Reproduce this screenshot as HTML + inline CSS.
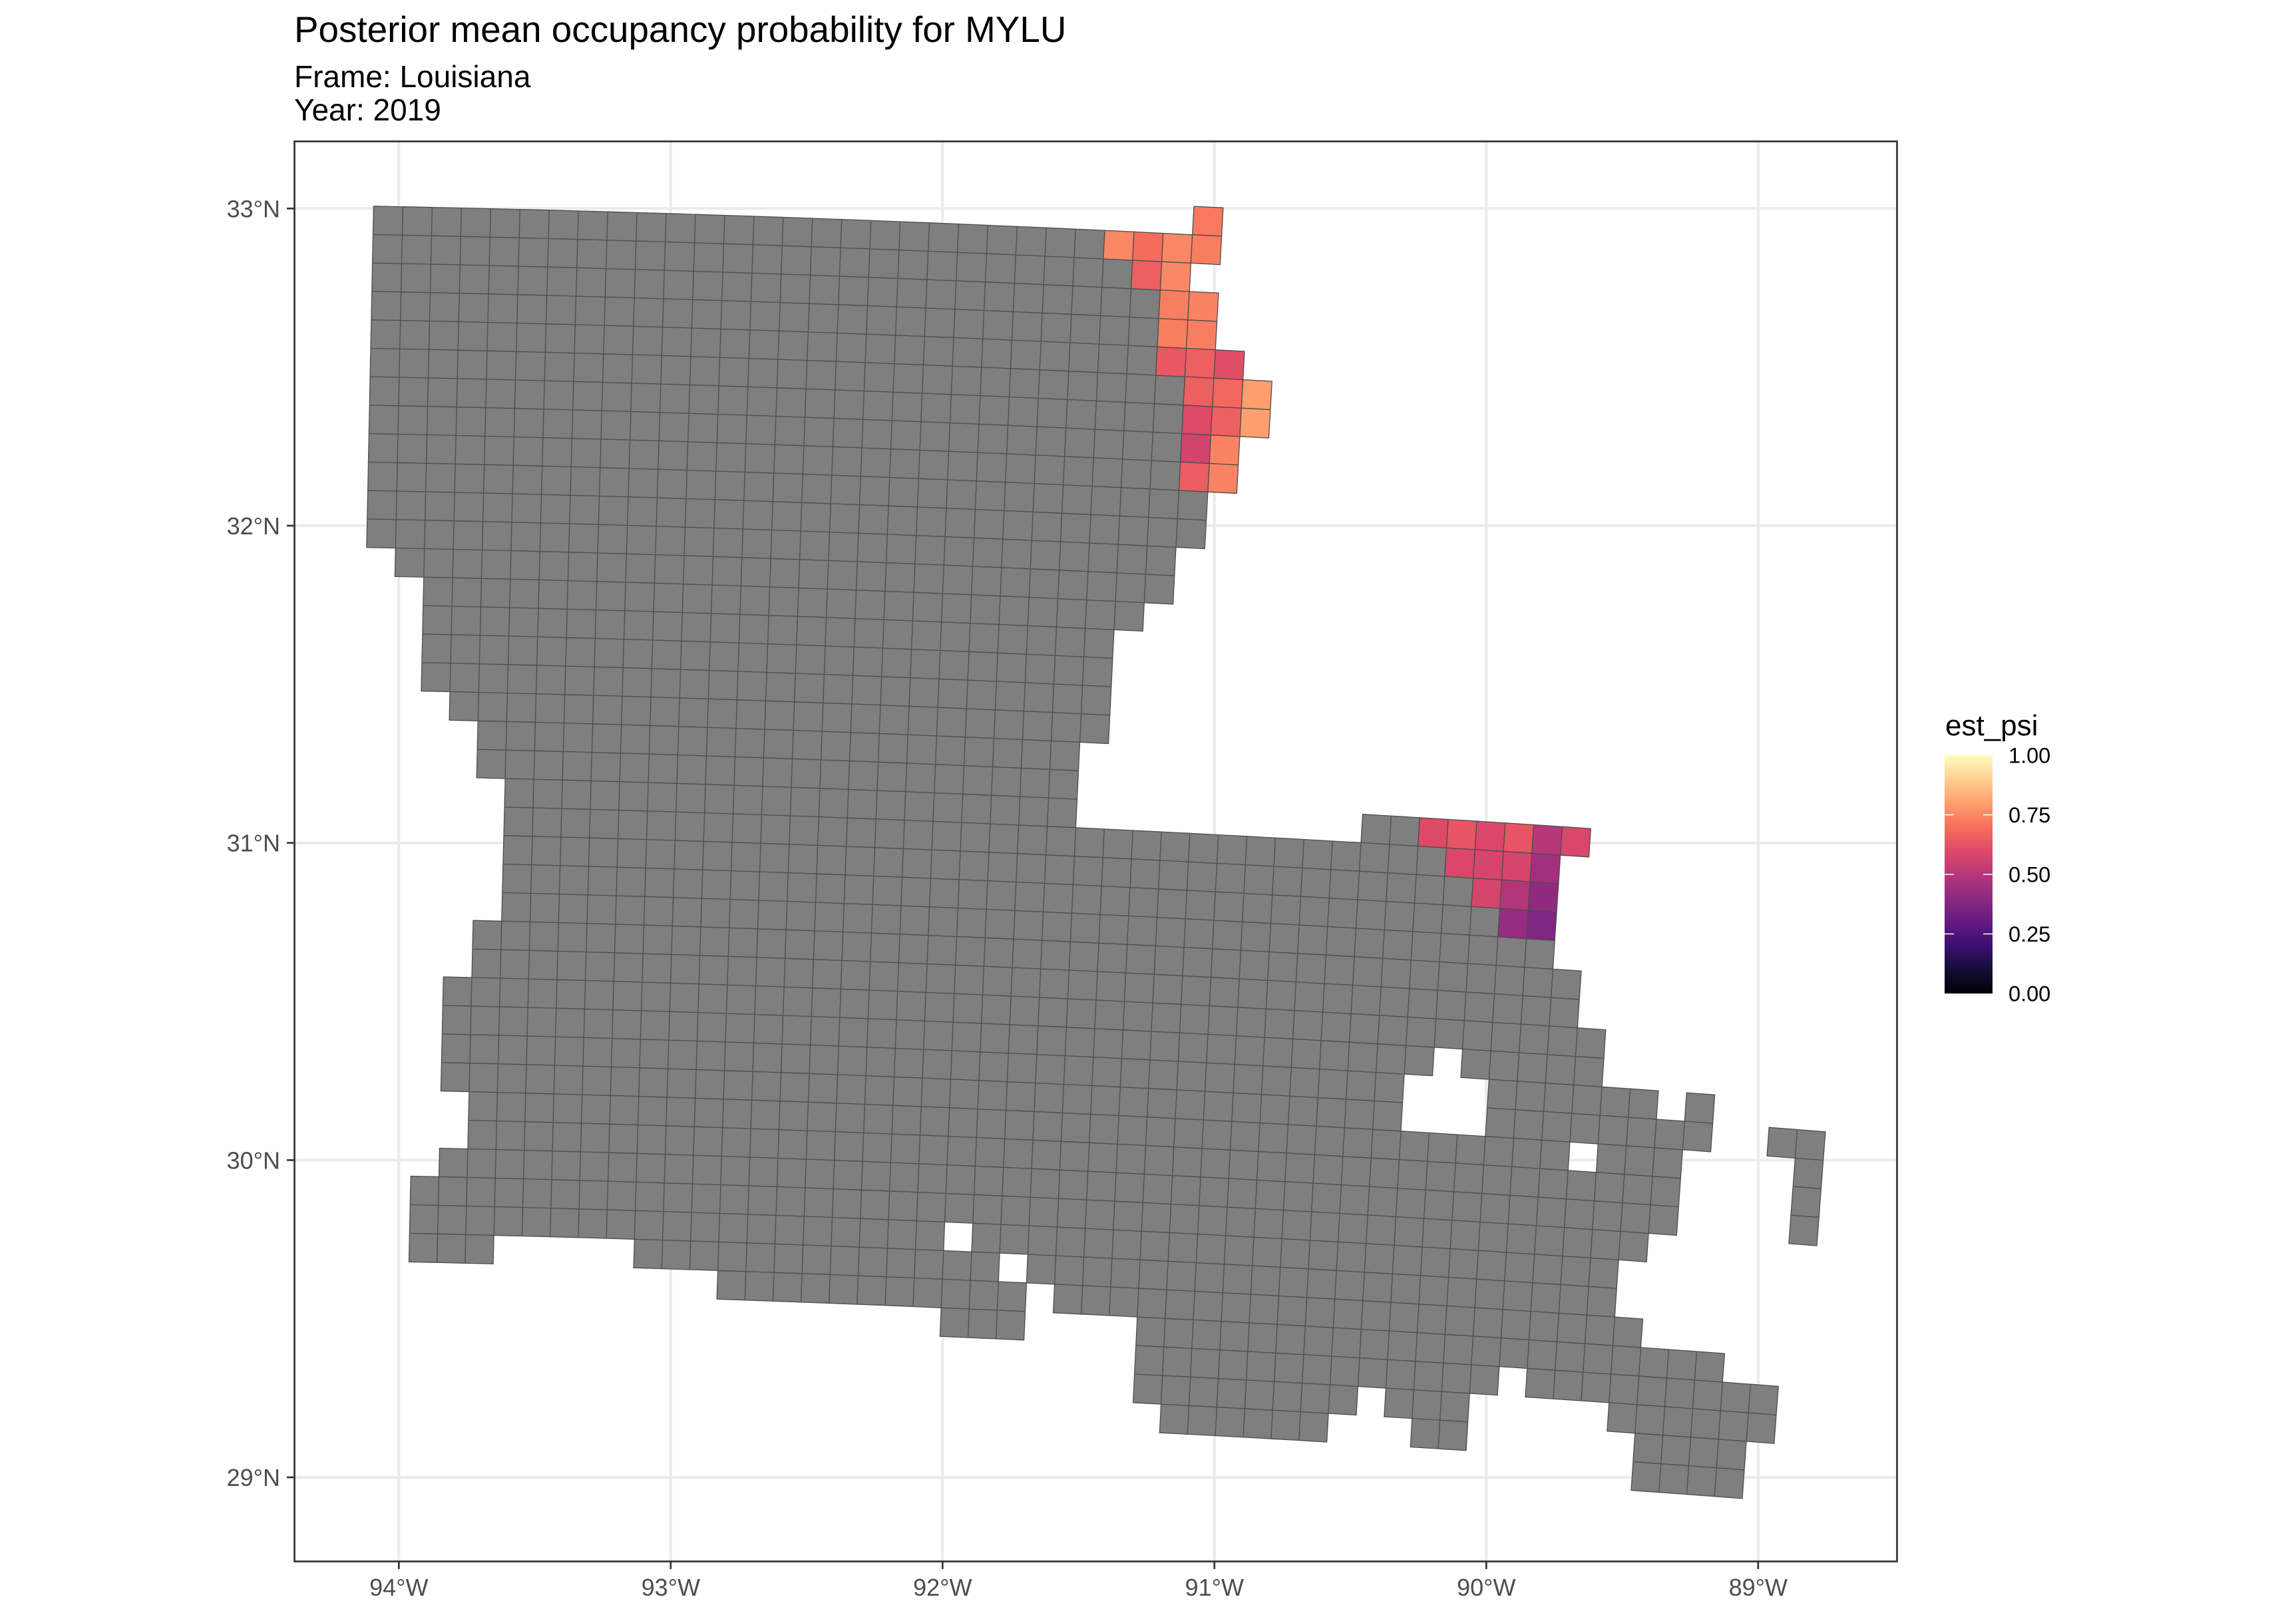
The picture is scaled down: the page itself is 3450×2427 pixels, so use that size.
<!DOCTYPE html>
<html><head><meta charset="utf-8">
<style>
html,body{margin:0;padding:0;background:#fff;}
svg{display:block;font-family:"Liberation Sans",Arial,sans-serif;}
</style></head>
<body>
<svg id="chart" width="3450" height="2427" viewBox="0 0 3450 2427" xmlns="http://www.w3.org/2000/svg">
<rect x="0" y="0" width="3450" height="2427" fill="#ffffff"/>
<text x="442" y="63" font-size="54.8" fill="#000">Posterior mean occupancy probability for MYLU</text>
<text x="442" y="131" font-size="46" fill="#000">Frame: Louisiana</text>
<text x="442" y="181" font-size="46" fill="#000">Year: 2019</text>
<g id="grid"></g>
<g id="cells"></g>
<rect x="442.5" y="212.5" width="2408" height="2134" fill="none" stroke="#333333" stroke-width="2.7"/>
<g id="axes"></g>
<g id="legend"></g>
</svg>
<script>
// ---- data ----
const lonTicks = [-94, -93, -92, -91, -90, -89];
const lonTickLabels = ["94°W", "93°W", "92°W", "91°W", "90°W", "89°W"];
const latTicks = [33, 32, 31, 30, 29];
const latTickLabels = ["33°N", "32°N", "31°N", "30°N", "29°N"];
const legendTicks = [0, 0.25, 0.5, 0.75, 1];
const legendTickLabels = ["0.00", "0.25", "0.50", "0.75", "1.00"];
// colored cells: center lon, lat and posterior mean psi
const cellLon = [-91.022,-91.350,-91.243,-91.135,-91.028,-91.249,-91.140,-91.144,-91.039,-91.151,-91.044,-91.160,-91.055,-90.945,-91.061,-90.954,-90.845,-91.066,-90.958,-90.849,-91.072,-90.965,-91.076,-90.972,
  -90.196,-90.089,-89.986,-89.879,-89.774,-89.671,-90.096,-89.992,-89.887,-89.780,-89.999,-89.894,-89.789,-89.902,-89.797];
const cellLat = [32.961,32.886,32.882,32.878,32.871,32.791,32.784,32.694,32.690,32.605,32.601,32.516,32.511,32.507,32.423,32.417,32.411,32.333,32.329,32.322,32.246,32.240,32.155,32.150,
  31.034,31.030,31.025,31.019,31.013,31.005,30.937,30.931,30.924,30.919,30.843,30.834,30.831,30.746,30.740];
const cellPsi = [0.72,0.75,0.69,0.75,0.73,0.66,0.75,0.73,0.74,0.73,0.73,0.64,0.66,0.61,0.66,0.68,0.80,0.60,0.66,0.80,0.57,0.74,0.65,0.74,
  0.60,0.63,0.59,0.63,0.50,0.59,0.59,0.58,0.58,0.45,0.58,0.49,0.41,0.42,0.37];

// ---- geometry (state mask traced in plot pixels) ----
const stateMask = [[561.4,309.8],[1660.5,346.1],[1793.6,346.1],[1793.6,309.8],[1838.2,311.7],[1834.6,397.1],[1790,397.1],[1787.3,438],[1831.1,440.5],[1827.5,524.7],[1870.4,528.5],[1868.6,570.6],[1912.3,573.8],[1907,658.6],[1861.4,656.7],[1858.8,741.5],[1815,739.6],[1812.3,824.4],[1765.9,822.5],[1763.2,907.3],[1718.6,905.4],[1716.8,948.2],[1673.9,946.9],[1666.8,1117.2],[1622.1,1115.9],[1617.7,1243.5],[2043.9,1266.6],[2047.7,1223.2],[2390.5,1246.3],[2388.3,1287.7],[2346.2,1282.8],[2337.0,1411.9],[2334.7,1456.1],[2377.5,1458.2],[2373.0,1543.7],[2413.5,1545.8],[2408.9,1631.4],[2492.3,1636.3],[2490.0,1682.6],[2533.7,1685.4],[2535.2,1641.9],[2578.0,1645.5],[2573.4,1729.6],[2526.0,1727.5],[2520.6,1855.9],[2477.8,1853.8],[2476.3,1896.6],[2432.6,1894.5],[2426.5,1978.7],[2469.4,1980.8],[2467.1,2024.3],[2592.6,2033.4],[2589.5,2076.9],[2672.9,2083.9],[2668.3,2168.1],[2625.5,2164.6],[2619.4,2250.9],[2451.8,2238.2],[2455.6,2152.7],[2415.0,2150.5],[2418.9,2108.5],[2293.4,2099.3],[2294.9,2057.2],[2254.3,2054.4],[2250.5,2096.5],[2209.9,2092.3],[2204.6,2178.6],[2120.4,2173.7],[2124.2,2131.6],[2082.1,2127.4],[2084.4,2085.3],[2042.3,2082.5],[2040.0,2126.0],[1996.4,2123.2],[1994.1,2166.0],[1743.9,2152.0],[1745.4,2109.9],[1703.3,2107.1],[1707.1,1977.3],[1582.7,1971.7],[1584.4,1929.6],[1544.3,1927.5],[1539.8,2013.8],[1413.0,2008.1],[1415.7,1964.6],[1078.2,1952.0],[1080.0,1908.5],[953.2,1905.0],[955.0,1861.5],[743.4,1856.6],[741.6,1899.4],[613.9,1896.6],[616.6,1766.8],[661.3,1766.8],[661.3,1724.7],[705.0,1724.7],[705.0,1639.8],[663.0,1639.8],[665.7,1468.0],[711.3,1468.0],[711.3,1383.8],[755.9,1383.8],[758.6,1200],[758.8,1168.8],[717.7,1168.8],[717.7,1082.1],[675.7,1082.1],[675.7,1038.7],[634.6,1038.7],[636.4,867.2],[593.6,867.2],[593.6,822.5],[550.7,822.5]];
const islandMask = [[2658.4,1694.6],[2744.1,1699.5],[2736.5,1871.3],[2690.5,1871.3],[2696.7,1741.6],[2656.9,1738.8]];
const holePts = [[1439.8,1859.4],[1522.9,1905.0],[2174.7,1596.4],[2130.3,1638.4],[2172.4,1638.4],[2214.5,1638.4],[2128,1680.5],[2170,1680.5],[2212,1680.5],[2378.3,1738.8]];

// ---- scales ----
const PX0 = 599.3, PXD = 408.5, PY0 = 313.3, PYD = 476.7;
function sx(lon){ return PX0 + (lon + 94) * PXD; }
function sy(lat){ return PY0 + (33 - lat) * PYD; }
function ilon(x){ return -94 + (x - PX0) / PXD; }
function ilat(y){ return 33 - (y - PY0) / PYD; }

// ---- Albers equal area (CONUS) ----
const A = 6378137, E2 = 0.0066943800229, E = Math.sqrt(E2), D2R = Math.PI/180;
function qf(p){ const s=Math.sin(p); return (1-E2)*(s/(1-E2*s*s) - (1/(2*E))*Math.log((1-E*s)/(1+E*s))); }
function mf(p){ const s=Math.sin(p); return Math.cos(p)/Math.sqrt(1-E2*s*s); }
const P1=29.5*D2R, P2=45.5*D2R, P0=23*D2R, L0=-96*D2R;
const M1=mf(P1), M2=mf(P2), Q1=qf(P1), Q2=qf(P2), Q0=qf(P0);
const N=(M1*M1-M2*M2)/(Q2-Q1), CC=M1*M1+N*Q1, RHO0=A*Math.sqrt(CC-N*Q0)/N;
function fwd(lon,lat){ const q=qf(lat*D2R); const r=A*Math.sqrt(CC-N*q)/N; const t=N*(lon*D2R-L0); return [r*Math.sin(t), RHO0-r*Math.cos(t)]; }
function inv(x,y){ const r=Math.sqrt(x*x+(RHO0-y)*(RHO0-y)); const t=Math.atan2(x,RHO0-y); const q=(CC-r*r*N*N/(A*A))/N;
  let p=Math.asin(Math.max(-1,Math.min(1,q/2)));
  for(let k=0;k<12;k++){ const s=Math.sin(p); p+= (1-E2*s*s)*(1-E2*s*s)/(2*Math.cos(p))*(q/(1-E2)-s/(1-E2*s*s)+(1/(2*E))*Math.log((1-E*s)/(1+E*s))); }
  return [(L0+t/N)/D2R, p/D2R]; }

const NS="http://www.w3.org/2000/svg";
function mk(tag, attrs, parent){ const el=document.createElementNS(NS,tag); for(const k in attrs) el.setAttribute(k, attrs[k]); parent.appendChild(el); return el; }

// magma colormap
const magmaStops = ["#000004","#140e36","#3b0f70","#641a80","#8c2981","#b73779","#de4968","#f7705c","#fe9f6d","#fecf92","#fcfdbf"];
function hex2rgb(h){ return [parseInt(h.substr(1,2),16),parseInt(h.substr(3,2),16),parseInt(h.substr(5,2),16)]; }
function magma(v){ v=Math.max(0,Math.min(1,v)); const f=v*10; const i=Math.min(9,Math.floor(f)); const t=f-i;
  const a=hex2rgb(magmaStops[i]), b=hex2rgb(magmaStops[i+1]);
  return "rgb("+a.map((c,k)=>Math.round(c+(b[k]-c)*t)).join(",")+")"; }

function inPoly(pt, poly){ let c=false; for(let i=0,j=poly.length-1;i<poly.length;j=i++){ const xi=poly[i][0], yi=poly[i][1], xj=poly[j][0], yj=poly[j][1];
  if(((yi>pt[1])!==(yj>pt[1])) && (pt[0] < (xj-xi)*(pt[1]-yi)/(yj-yi)+xi)) c=!c; } return c; }

// graticule
const gridG=document.getElementById('grid');
lonTicks.forEach(function(lon){ const l=mk('line',{x1:sx(lon),x2:sx(lon),y1:212,y2:2347,stroke:'#ebebeb','stroke-width':4},gridG);
  
   });
latTicks.forEach(function(lat){ const l=mk('line',{x1:442,x2:2851,y1:sy(lat),y2:sy(lat),stroke:'#ebebeb','stroke-width':4},gridG);
  
   });

// cell grid calibration (top-left corner of grid)
const origin = fwd(ilon(561.4), ilat(309.8));
const SZ = 10000;
function cornerPx(i,j){ const ll=inv(origin[0]+i*SZ, origin[1]-j*SZ); return [sx(ll[0]), sy(ll[1])]; }
function cellIndex(lon,lat){ const p=fwd(lon,lat); return [Math.floor((p[0]-origin[0])/SZ), Math.floor((origin[1]-p[1])/SZ)]; }

const colored = {};
for(let k=0;k<cellLon.length;k++){ const ij=cellIndex(cellLon[k], cellLat[k]); colored[ij[0]+","+ij[1]] = cellPsi[k]; }
const holes = {};
holePts.forEach(function(p){ const ij=cellIndex(ilon(p[0]), ilat(p[1])); holes[ij[0]+","+ij[1]]=1; });

const cellsG=document.getElementById('cells');
const grayParts=[], colorCells=[];
for(let j=-4;j<52;j++){ for(let i=-4;i<62;i++){
  const key=i+","+j;
  const c=[cornerPx(i,j),cornerPx(i+1,j),cornerPx(i+1,j+1),cornerPx(i,j+1)];
  const d="M"+c.map(p=>p[0].toFixed(1)+","+p[1].toFixed(1)).join("L")+"Z";
  if(key in colored){ colorCells.push([d, colored[key]]); continue; }
  const cen=[(c[0][0]+c[2][0])/2,(c[0][1]+c[2][1])/2];
  if(holes[key]) continue;
  if(inPoly(cen,stateMask) || inPoly(cen,islandMask)) grayParts.push(d);
}}
const grayPath = mk('path',{d:grayParts.join(""),fill:'#7f7f7f',stroke:'#4d4d4d','stroke-width':1.3,'stroke-linejoin':'miter'},cellsG);


colorCells.forEach(function(cc){ const p=mk('path',{d:cc[0],fill:magma(cc[1]),stroke:'#4d4d4d','stroke-width':1.3},cellsG);
  
   });

// axes
const axG=document.getElementById('axes');
lonTicks.forEach(function(lon,k){ const x=sx(lon);
  const t=mk('line',{x1:x,x2:x,y1:2347,y2:2358,stroke:'#333333','stroke-width':2.7},axG);
  
  
  const tx=mk('text',{x:x,y:2398,'font-size':36,fill:'#4d4d4d','text-anchor':'middle'},axG); tx.textContent=lonTickLabels[k];
  
   });
latTicks.forEach(function(lat,k){ const y=sy(lat);
  const t=mk('line',{x1:431,x2:442,y1:y,y2:y,stroke:'#333333','stroke-width':2.7},axG);
  
  
  const tx=mk('text',{x:421,y:y+13,'font-size':36,fill:'#4d4d4d','text-anchor':'end'},axG); tx.textContent=latTickLabels[k];
  
   });

// legend
const lg=document.getElementById('legend');
const defs=mk('defs',{},lg);
const grad=mk('linearGradient',{id:'magmaGrad',x1:0,y1:1,x2:0,y2:0},defs);
for(let k=0;k<=20;k++){ mk('stop',{offset:(k/20),'stop-color':magma(k/20)},grad); }
const lt=mk('text',{x:2923,y:1105,'font-size':44,fill:'#000'},lg); lt.textContent='est_psi';


const BX=2922, BW=72, BT=1135, BB=1493;
function ly(v){ return BB - v*(BB-BT); }
const bar=mk('rect',{x:BX,y:BT,width:BW,height:BB-BT,fill:'url(#magmaGrad)'},lg);


legendTicks.forEach(function(v,k){ const y=ly(v);
  if(v>0 && v<1){
    const a=mk('line',{x1:BX,x2:BX+14,y1:y,y2:y,stroke:'#fff','stroke-width':1.5},lg);
    
    
    const b=mk('line',{x1:BX+BW-14,x2:BX+BW,y1:y,y2:y,stroke:'#fff','stroke-width':1.5},lg);
    
     }
  const tx=mk('text',{x:3018,y:y+11.5,'font-size':32.5,fill:'#000'},lg); tx.textContent=legendTickLabels[k];
  
   });
</script>
</body></html>
